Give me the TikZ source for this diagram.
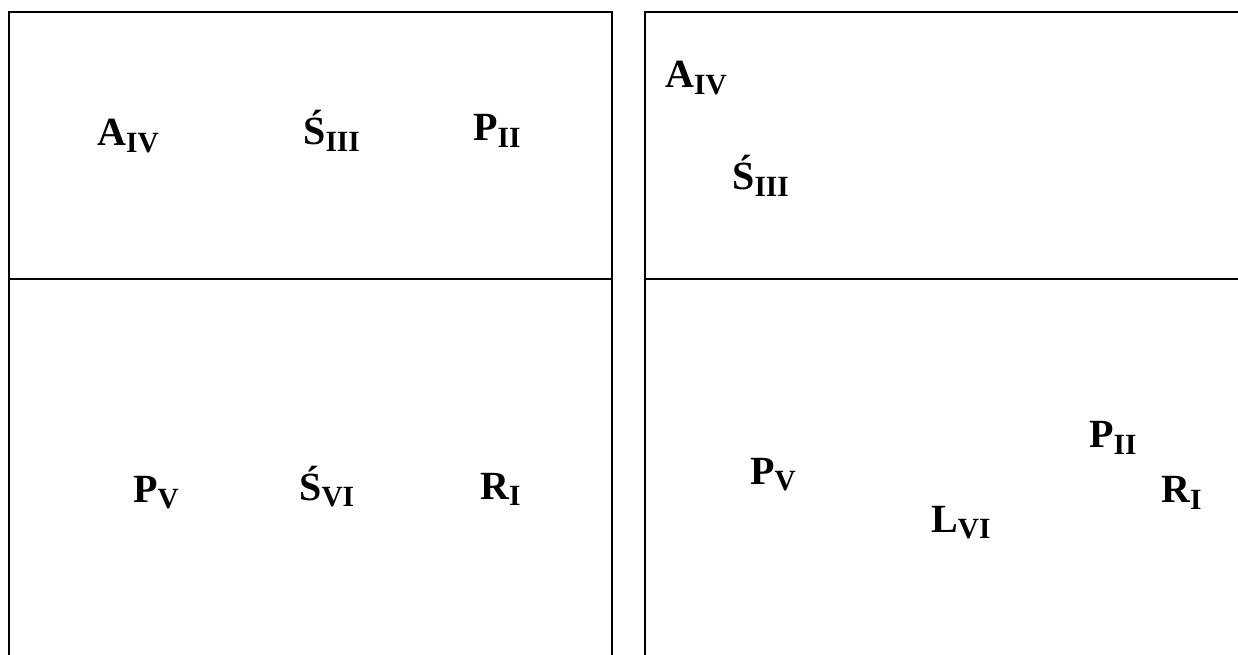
\documentclass[tikz,border=0pt]{standalone}
\usepackage{fontspec}
\setmainfont{Liberation Serif}
\newcommand{\lbl}[2]{{\bfseries\fontsize{30}{30}\selectfont #1\raisebox{-5pt}{\fontsize{22}{22}\selectfont #2}}}
\begin{document}
\begin{tikzpicture}[x=0.75pt,y=-0.75pt,
  frame/.style={line width=1.6pt,black},
  lab/.style={anchor=base west,inner sep=0pt}]
\useasboundingbox (0,0) rectangle (1238,655);
% left box
\draw[frame] (9,660) -- (9,12) -- (612,12) -- (612,660);
\draw[frame] (9,279) -- (612,279);
% right box
\draw[frame] (645,660) -- (645,12) -- (1245,12);
\draw[frame] (645,279) -- (1245,279);
% left labels
\node[lab] (a1) at (97,146) {\lbl{A}{IV}};
\node[lab] (s1) at (303,145) {\lbl{Ś}{III}};
\node[lab] (p1) at (473,141) {\lbl{P}{II}};
\node[lab] (p2) at (133,502) {\lbl{P}{V}};
\node[lab] (s2) at (299,500) {\lbl{Ś}{VI}};
\node[lab] (r1) at (480,499) {\lbl{R}{I}};
% right labels
\node[lab] (a2) at (665,88) {\lbl{A}{IV}};
\node[lab] (s3) at (732,190) {\lbl{Ś}{III}};
\node[lab] (p3) at (1089,448) {\lbl{P}{II}};
\node[lab] (p4) at (750,484) {\lbl{P}{V}};
\node[lab] (l1) at (931,532) {\lbl{L}{VI}};
\node[lab] (r2) at (1161,503) {\lbl{R}{I}};
\end{tikzpicture}
\end{document}
